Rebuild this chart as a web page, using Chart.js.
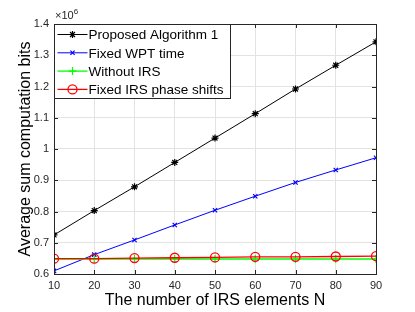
<!DOCTYPE html>
<html>
<head>
<meta charset="utf-8">
<script src="https://cdn.jsdelivr.net/npm/chart.js@4/dist/chart.umd.min.js"></script>
<style>
  html, body { margin: 0; padding: 0; background: #fff; }
  #wrap { width: 415px; height: 312px; }
</style>
</head>
<body>
<div id="wrap"><canvas id="myChart" width="415" height="312"></canvas></div>
<script>
// values, in units of 10^6 bits
const irsElements = [10, 20, 30, 40, 50, 60, 70, 80, 90];
const proposedAlg = [0.725, 0.803, 0.879, 0.957, 1.035, 1.113, 1.192, 1.268, 1.343];
const fixedWpt = [0.610, 0.662, 0.709, 0.757, 0.804, 0.849, 0.893, 0.933, 0.972];
const withoutIrs = [0.648, 0.648, 0.648, 0.648, 0.648, 0.648, 0.648, 0.648, 0.648];
const fixedPhase = [0.649, 0.649, 0.651, 0.652, 0.653, 0.655, 0.655, 0.656, 0.657];
const seriesNames = ['Proposed Algorithm 1', 'Fixed WPT time', 'Without IRS', 'Fixed IRS phase shifts'];

const FONT = '"Liberation Sans", Arial, Helvetica, sans-serif';
const AXIS = '#262626';

function toPoints(ys) {
    return irsElements.map((x, i) => ({ x: x, y: ys[i] }));
}

function makeSet(label, data, color, style, radius, width, order) {
    const hollow = style === 'circle';
    return {
        label: label,
        data: toPoints(data),
        borderColor: color,
        backgroundColor: hollow ? 'rgba(0,0,0,0)' : color,
        borderWidth: width,
        pointStyle: style,
        pointRadius: radius,
        pointBorderColor: color,
        pointBackgroundColor: hollow ? 'rgba(0,0,0,0)' : color,
        pointBorderWidth: hollow ? 1.3 : 1.2,
        pointHoverRadius: radius,
        tension: 0,
        order: order
    };
}

// box, inner ticks, exponent and legend, drawn the MATLAB way
const matlabBox = {
    id: 'matlabBox',
    afterDraw(chart) {
        const ctx = chart.ctx;
        const a = chart.chartArea;
        const xs = chart.scales.x;
        const ys = chart.scales.y;
        ctx.save();
        ctx.strokeStyle = AXIS;
        ctx.lineWidth = 1;
        ctx.beginPath();
        xs.ticks.forEach(t => {
            const px = Math.round(xs.getPixelForValue(t.value)) + 0.5;
            ctx.moveTo(px, a.bottom); ctx.lineTo(px, a.bottom - 4);
            ctx.moveTo(px, a.top); ctx.lineTo(px, a.top + 4);
        });
        ys.ticks.forEach(t => {
            const py = Math.round(ys.getPixelForValue(t.value)) + 0.5;
            ctx.moveTo(a.left, py); ctx.lineTo(a.left + 4, py);
            ctx.moveTo(a.right, py); ctx.lineTo(a.right - 4, py);
        });
        ctx.stroke();
        ctx.strokeRect(Math.round(a.left) + 0.5, Math.round(a.top) + 0.5,
            Math.round(a.right - a.left), Math.round(a.bottom - a.top));

        // exponent label
        ctx.fillStyle = AXIS;
        ctx.textBaseline = 'alphabetic';
        ctx.textAlign = 'left';
        ctx.font = '11px ' + FONT;
        ctx.fillText('\u00d710', a.left + 1, a.top - 5);
        const w = ctx.measureText('\u00d710').width;
        ctx.font = '8px ' + FONT;
        ctx.fillText('6', a.left + 1 + w, a.top - 10);

        // legend
        const bx = Math.round(a.left) + 0.5, by = Math.round(a.top) + 0.5;
        const bw = 176, bh = 74;
        ctx.fillStyle = '#fff';
        ctx.fillRect(bx, by, bw, bh);
        ctx.strokeStyle = AXIS;
        ctx.strokeRect(bx, by, bw, bh);
        ctx.font = '13.5px ' + FONT;
        ctx.textBaseline = 'middle';
        chart.data.datasets.forEach((ds, i) => {
            const cy = by + 10 + i * 18.3;
            ctx.strokeStyle = ds.borderColor;
            ctx.lineWidth = ds.borderWidth;
            ctx.beginPath();
            ctx.moveTo(bx + 3, cy);
            ctx.lineTo(bx + 33, cy);
            ctx.stroke();
            ctx.fillStyle = ds.pointBackgroundColor;
            ctx.lineWidth = ds.pointBorderWidth;
            Chart.helpers.drawPoint(ctx, {
                pointStyle: ds.pointStyle,
                radius: ds.pointRadius,
                rotation: 0,
                borderWidth: ds.pointBorderWidth
            }, bx + 18, cy);
            ctx.fillStyle = '#000';
            ctx.fillText(ds.label, bx + 34, cy + 1);
        });
        ctx.restore();
    }
};

const ctx = document.getElementById('myChart');
const myChart = new Chart(ctx, {
    type: 'line',
    data: {
        datasets: [
            makeSet(seriesNames[0], proposedAlg, '#000000', 'star', 3.5, 1, 3),
            makeSet(seriesNames[1], fixedWpt, '#0000ff', 'crossRot', 3, 1, 2),
            makeSet(seriesNames[2], withoutIrs, '#00ff00', 'cross', 4, 1.3, 1),
            makeSet(seriesNames[3], fixedPhase, '#ff0000', 'circle', 4.5, 1.3, 0)
        ]
    },
    options: {
        responsive: false,
        animation: false,
        events: [],
        layout: { padding: { left: 0, top: 24, right: 39, bottom: 0 } },
        plugins: { legend: { display: false }, tooltip: { enabled: false } },
        scales: {
            x: {
                type: 'linear',
                min: 10,
                max: 90,
                afterFit: s => { s.height = 38; },
                ticks: { stepSize: 10, padding: 5, color: AXIS, font: { family: FONT, size: 11 }, maxRotation: 0 },
                grid: { color: '#e3e3e3', drawTicks: false },
                border: { display: false },
                title: {
                    display: true,
                    text: 'The number of IRS elements N',
                    color: '#000',
                    font: { family: FONT, size: 16 },
                    padding: { top: 0, bottom: 2 }
                }
            },
            y: {
                min: 0.6,
                max: 1.4,
                afterFit: s => { s.width = 54; },
                ticks: {
                    stepSize: 0.1, padding: 5, color: AXIS, font: { family: FONT, size: 11 },
                    callback: v => String(Number(v.toFixed(1)))
                },
                grid: { color: '#e3e3e3', drawTicks: false },
                border: { display: false },
                title: {
                    display: true,
                    text: 'Average sum computation bits',
                    color: '#000',
                    font: { family: FONT, size: 16 },
                    padding: { top: 16, bottom: 0 }
                }
            }
        }
    },
    plugins: [matlabBox]
});
</script>
</body>
</html>
